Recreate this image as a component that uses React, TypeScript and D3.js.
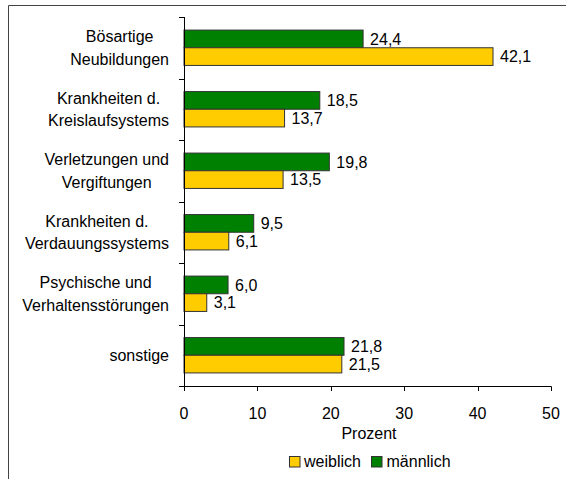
import React from "react";
import * as d3 from "d3";

const categories: string[][] = [
  ["Bösartige", "Neubildungen"],
  ["Krankheiten d.", "Kreislaufsystems"],
  ["Verletzungen und", "Vergiftungen"],
  ["Krankheiten d.", "Verdauungssystems"],
  ["Psychische und", "Verhaltensstörungen"],
  ["sonstige"],
];
const maennlich = [24.4, 18.5, 19.8, 9.5, 6.0, 21.8];
const weiblich = [42.1, 13.7, 13.5, 6.1, 3.1, 21.5];
const xTicks = [0, 10, 20, 30, 40, 50];
const seriesNames = ["weiblich", "männlich"];
const axisTitle = "Prozent";

const W = 566;
const H = 479;
const FONT = '"Liberation Sans", Arial, sans-serif';
const FS = 16;
const GREEN = "#008000";
const YELLOW = "#FFCC00";
const STROKE = "#333";

let ctx: CanvasRenderingContext2D | null = null;
function measure(s: string): number {
  if (!ctx) ctx = document.createElement("canvas").getContext("2d");
  if (!ctx) return s.length * 8;
  ctx.font = `${FS}px ${FONT}`;
  return ctx.measureText(s).width;
}

export default function App() {
  const x = d3.scaleLinear().domain([0, 50]).range([184, 551]);
  const idx = categories.map((_, i) => String(i));
  const y = d3.scaleBand().domain(idx).range([17, 386]).paddingInner(0).paddingOuter(0);
  const bw = y.bandwidth();
  const barH = bw * 0.2875;
  const fmt = (v: number) => v.toFixed(1).replace(".", ",");
  const labelRight = 169;

  return (
    <div style={{ position: "fixed", left: 0, top: 0 }}>
      <svg width={W} height={H} style={{ display: "block", fontFamily: FONT }}>
        <rect x={0} y={0} width={W} height={H} fill="#fff" />
        {/* frame */}
        <line x1={8.5} y1={5.5} x2={W} y2={5.5} stroke="#444" strokeWidth={1} />
        <line x1={8.5} y1={5.5} x2={8.5} y2={H} stroke="#444" strokeWidth={1} />

        {categories.map((lines, i) => {
          const y0 = y(String(i))!;
          const c = y0 + bw / 2;
          const gTop = c - barH;
          const wTop = c;
          const maxW = Math.max(...lines.map(measure));
          const cx = labelRight - maxW / 2;
          const lineYs = lines.length === 1 ? [c] : [c - 11.3, c + 11];
          return (
            <g key={i}>
              <rect x={x(0)} y={gTop} width={x(maennlich[i]) - x(0)} height={barH}
                fill={GREEN} stroke={STROKE} strokeWidth={1} />
              <rect x={x(0)} y={wTop} width={x(weiblich[i]) - x(0)} height={barH}
                fill={YELLOW} stroke={STROKE} strokeWidth={1} />
              <text x={x(maennlich[i]) + 7} y={gTop + barH / 2 + 5.75} fontSize={FS} fill="#000">
                {fmt(maennlich[i])}
              </text>
              <text x={x(weiblich[i]) + 7} y={wTop + barH / 2 + 5.75} fontSize={FS} fill="#000">
                {fmt(weiblich[i])}
              </text>
              {lines.map((l, j) => (
                <text key={j} x={cx} y={lineYs[j] + 5.75} fontSize={FS} textAnchor="middle" fill="#000">
                  {l}
                </text>
              ))}
            </g>
          );
        })}

        {/* y axis */}
        <line x1={184.5} y1={17} x2={184.5} y2={386} stroke="#000" strokeWidth={1} />
        {idx.map((k) => (
          <line key={k} x1={179} x2={184.5} y1={Math.round(y(k)!) + 0.5} y2={Math.round(y(k)!) + 0.5}
            stroke="#000" strokeWidth={1} />
        ))}
        {/* x axis */}
        <line x1={179} y1={386.5} x2={551.5} y2={386.5} stroke="#000" strokeWidth={1} />
        {xTicks.map((t) => (
          <g key={t}>
            <line x1={Math.round(x(t)) + 0.5} x2={Math.round(x(t)) + 0.5} y1={386.5} y2={391}
              stroke="#000" strokeWidth={1} />
            <text x={x(t)} y={418.5} fontSize={FS} textAnchor="middle" fill="#000">{t}</text>
          </g>
        ))}
        <text x={x(25) + 1.5} y={438.5} fontSize={FS} textAnchor="middle" fill="#000">{axisTitle}</text>

        {/* legend */}
        <rect x={289.5} y={456.5} width={10.5} height={10.5} fill={YELLOW} stroke={STROKE} strokeWidth={1} />
        <text x={304} y={466.7} fontSize={FS} fill="#000">{seriesNames[0]}</text>
        <rect x={371.5} y={456.5} width={10.5} height={10.5} fill={GREEN} stroke={STROKE} strokeWidth={1} />
        <text x={386.5} y={466.7} fontSize={FS} fill="#000">{seriesNames[1]}</text>
      </svg>
    </div>
  );
}
